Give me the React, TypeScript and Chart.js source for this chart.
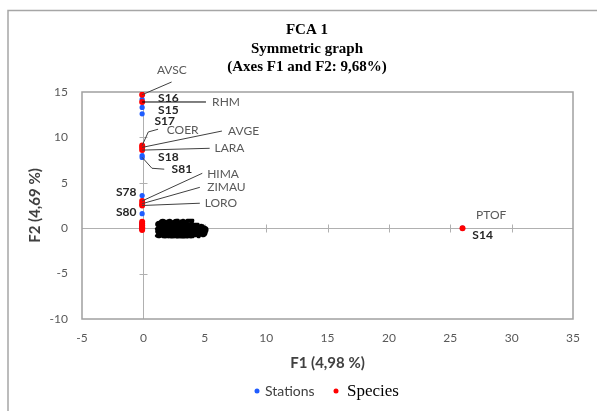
import React, { useEffect, useRef } from "react";
import { Chart, registerables } from "chart.js";

Chart.register(...registerables);

const titleLines = ["FCA 1", "Symmetric graph", "(Axes F1 and F2: 9,68%)"];
const xAxisTitle = "F1 (4,98 %)";
const yAxisTitle = "F2 (4,69 %)";
const legendLabels = ["Stations", "Species"];

// Species (red)
const speciesNames = ["AVSC", "RHM", "COER", "AVGE", "LARA", "HIMA", "ZIMAU", "LORO", "PTOF"];
const speciesX = [-0.1, -0.1, -0.1, -0.1, -0.1, -0.1, -0.1, -0.1, 26.0];
const speciesY = [14.7, 13.9, 9.1, 8.9, 8.6, 3.0, 2.7, 2.5, 0.0];
const speciesLabelX = [1.1, 5.6, 1.9, 6.9, 5.8, 5.2, 5.2, 5.0, 27.1];
const speciesLabelY = [17.4, 13.9, 10.8, 10.7, 8.8, 5.95, 4.5, 2.75, 1.43];
const speciesLeaderX = [2.3, 5.1, 1.2, 6.4, 5.4, 4.8, 4.6, 4.6, null];
const speciesLeaderY = [16.1, 13.9, 10.9, 10.7, 8.8, 6.05, 4.5, 2.75, null];
const speciesElbowX = [null, null, 0.4, null, null, null, null, null, null];
const speciesElbowY = [null, null, 10.6, null, null, null, null, null, null];

// Unlabelled species clustered at the origin
const originSpeciesX = [-0.1, -0.1, -0.1, -0.1, -0.1, -0.1];
const originSpeciesY = [0.7, 0.5, 0.3, 0.1, -0.05, -0.2];

// Stations (blue)
const stationNames = ["S16", "S15", "S17", "S18", "S81", "S78", "S80", "S14"];
const stationX = [-0.1, -0.1, -0.1, -0.1, -0.1, -0.1, -0.1, 26.0];
const stationY = [14.2, 13.3, 12.6, 8.0, 7.8, 3.6, 1.6, 0.0];
const stationLabelX = [1.2, 1.2, 0.9, 1.2, 2.3, -0.57, -0.57, 26.8];
const stationLabelY = [14.3, 13.0, 11.8, 7.8, 6.5, 3.97, 1.76, -0.77];
const stationLabelAlign = ["left", "left", "left", "left", "left", "right", "right", "left"];
const stationLeaderX = [null, null, null, null, 1.7, null, null, null];
const stationLeaderY = [null, null, null, null, 6.5, null, null, null];
const stationElbowX = [null, null, null, null, 0.7, null, null, null];
const stationElbowY = [null, null, null, null, 6.6, null, null, null];

// Stations clustered at the origin (labels overlap into a blob)
const originStationNames = ["S1", "S2", "S3", "S4", "S5", "S6", "S7", "S8", "S9", "S10", "S11", "S12", "S13", "S19", "S20", "S21", "S22", "S23", "S24", "S25", "S26", "S27"];
const originStationX = [-0.1, -0.1, -0.1, -0.1, -0.1, -0.1, -0.1, -0.1, -0.1, -0.1, -0.1, -0.1, -0.1, -0.1, -0.1, -0.1, -0.1, -0.1, -0.1, -0.1, -0.1, -0.1];
const originStationY = [0.6, 0.5, 0.4, 0.3, 0.2, 0.1, 0.0, -0.1, 0.6, 0.5, 0.4, 0.3, 0.2, 0.1, 0.0, -0.1, 0.2, 0.1, 0.0, 0.3, 0.4, 0.5];
const originLabelX = [1.0, 1.4, 1.8, 2.2, 2.6, 3.0, 3.4, 3.9, 1.1, 1.6, 2.1, 2.6, 3.1, 3.6, 1.0, 1.5, 2.0, 2.5, 3.0, 3.5, 1.3, 2.4];
const originLabelY = [0.25, 0.25, 0.3, 0.25, 0.2, 0.1, 0.0, -0.1, -0.2, -0.2, -0.25, -0.25, -0.3, -0.3, -0.5, -0.5, -0.55, -0.55, -0.5, -0.45, 0.45, 0.45];

const RED = "#ff0000";
const BLUE = "#1f5cff";
const SANS = "Lato, 'Liberation Sans', sans-serif";
const SERIF = "'Liberation Serif', 'Times New Roman', serif";

const pts = (xs: number[], ys: number[]) => xs.map((x, i) => ({ x, y: ys[i] }));

const decor = {
  id: "decor",
  beforeDatasetsDraw(chart: any) {
    const { ctx, chartArea } = chart;
    const { left, right, top, bottom } = chartArea;
    const xs = chart.scales.x;
    const ys = chart.scales.y;
    ctx.save();
    ctx.strokeStyle = "#a6a6a6";
    ctx.lineWidth = 1.5;
    ctx.beginPath();
    ctx.moveTo(8, 411);
    ctx.lineTo(8, 10.5);
    ctx.lineTo(597, 10.5);
    ctx.stroke();
    const x0 = Math.round(xs.getPixelForValue(0)) + 0.5;
    const y0 = Math.round(ys.getPixelForValue(0)) + 0.5;
    ctx.strokeStyle = "#b0b0b0";
    ctx.lineWidth = 1;
    ctx.beginPath();
    ctx.moveTo(x0, top);
    ctx.lineTo(x0, bottom);
    ctx.moveTo(left, y0);
    ctx.lineTo(right, y0);
    xs.ticks.forEach((t: any) => {
      if (t.value === 0 || t.value === xs.min || t.value === xs.max) return;
      const px = Math.round(xs.getPixelForValue(t.value)) + 0.5;
      ctx.moveTo(px, y0 - 4);
      ctx.lineTo(px, y0 + 4);
    });
    ys.ticks.forEach((t: any) => {
      if (t.value === 0 || t.value === ys.min || t.value === ys.max) return;
      const py = Math.round(ys.getPixelForValue(t.value)) + 0.5;
      ctx.moveTo(x0 - 4, py);
      ctx.lineTo(x0 + 4, py);
    });
    ctx.stroke();
    ctx.strokeStyle = "#a0a0a0";
    ctx.lineWidth = 1.5;
    ctx.strokeRect(left, top, right - left, bottom - top);
    ctx.restore();
  },
  afterDatasetsDraw(chart: any) {
    const { ctx } = chart;
    const xs = chart.scales.x;
    const ys = chart.scales.y;
    const X = (v: number) => xs.getPixelForValue(v);
    const Y = (v: number) => ys.getPixelForValue(v);
    ctx.save();

    const leader = (px: number, py: number, ex: any, ey: any, lx: any, ly: any, color: string) => {
      if (lx === null) return;
      ctx.strokeStyle = color;
      ctx.lineWidth = 1;
      ctx.beginPath();
      ctx.moveTo(X(px), Y(py));
      if (ex !== null) ctx.lineTo(X(ex), Y(ey));
      ctx.lineTo(X(lx), Y(ly));
      ctx.stroke();
    };

    speciesNames.forEach((_, i) => {
      const c = speciesLeaderY[i] !== null && Math.abs((speciesLeaderY[i] as number) - speciesY[i]) < 0.05 ? "#000000" : "#404040";
      leader(speciesX[i], speciesY[i], speciesElbowX[i], speciesElbowY[i], speciesLeaderX[i], speciesLeaderY[i], c);
    });
    stationNames.forEach((_, i) => {
      leader(stationX[i], stationY[i], stationElbowX[i], stationElbowY[i], stationLeaderX[i], stationLeaderY[i], "#404040");
    });

    ctx.textBaseline = "middle";
    ctx.font = `12px ${SANS}`;
    ctx.fillStyle = "#595959";
    ctx.textAlign = "left";
    speciesNames.forEach((n, i) => {
      ctx.fillText(n, X(speciesLabelX[i]), Y(speciesLabelY[i]));
    });

    ctx.font = `bold 12px ${SANS}`;
    ctx.fillStyle = "#262626";
    stationNames.forEach((n, i) => {
      ctx.textAlign = stationLabelAlign[i] as CanvasTextAlign;
      ctx.fillText(n, X(stationLabelX[i]), Y(stationLabelY[i]));
    });
    ctx.textAlign = "left";
    ctx.fillStyle = "#000000";
    ctx.strokeStyle = "#000000";
    ctx.lineWidth = 2.5;
    ctx.lineJoin = "round";
    originStationNames.forEach((n, i) => {
      ctx.strokeText(n, X(originLabelX[i]), Y(originLabelY[i]));
      ctx.fillText(n, X(originLabelX[i]), Y(originLabelY[i]));
    });

    ctx.fillStyle = "#000000";
    ctx.textAlign = "center";
    ctx.font = `bold 15px ${SERIF}`;
    const tys = [30, 49, 67];
    titleLines.forEach((t, i) => ctx.fillText(t, 307, tys[i]));

    ctx.textAlign = "left";
    ctx.fillStyle = BLUE;
    ctx.beginPath();
    ctx.arc(257, 391, 2.5, 0, Math.PI * 2);
    ctx.fill();
    ctx.fillStyle = "#404040";
    ctx.font = `14px ${SANS}`;
    ctx.fillText(legendLabels[0], 265, 391);
    ctx.fillStyle = RED;
    ctx.beginPath();
    ctx.arc(336, 391, 2.5, 0, Math.PI * 2);
    ctx.fill();
    ctx.fillStyle = "#000000";
    ctx.font = `17px ${SERIF}`;
    ctx.fillText(legendLabels[1], 347, 392);
    ctx.restore();
  },
};

export default function App() {
  const ref = useRef<HTMLCanvasElement>(null);
  useEffect(() => {
    const canvas = ref.current!;
    const chart = new Chart(canvas, {
      type: "scatter",
      data: {
        datasets: [
          {
            label: legendLabels[1],
            data: [...pts(speciesX, speciesY), ...pts(originSpeciesX, originSpeciesY)],
            backgroundColor: RED,
            borderColor: RED,
            borderWidth: 0,
            pointRadius: 3,
            order: 0,
          },
          {
            label: legendLabels[0],
            data: [...pts(stationX, stationY), ...pts(originStationX, originStationY)],
            backgroundColor: BLUE,
            borderColor: BLUE,
            borderWidth: 0,
            pointRadius: 2.6,
            order: 1,
          },
        ],
      },
      options: {
        responsive: false,
        animation: false,
        devicePixelRatio: 1,
        layout: { padding: { left: 22, right: 24, top: 92, bottom: 32 } },
        plugins: { legend: { display: false }, tooltip: { enabled: false }, title: { display: false } },
        scales: {
          x: {
            type: "linear",
            min: -5,
            max: 35,
            ticks: { stepSize: 5, padding: 12, color: "#595959", font: { family: SANS, size: 12 }, maxRotation: 0 },
            grid: { display: false, drawTicks: false },
            border: { display: false },
            title: {
              display: true,
              text: xAxisTitle,
              color: "#404040",
              font: { family: SANS, size: 15, weight: "bold" },
              padding: { top: 4, bottom: 7 },
            },
            afterFit: (s: any) => {
              s.height = 60;
            },
          },
          y: {
            type: "linear",
            min: -10,
            max: 15,
            ticks: { stepSize: 5, padding: 14, color: "#595959", font: { family: SANS, size: 12 } },
            grid: { display: false, drawTicks: false },
            border: { display: false },
            title: {
              display: true,
              text: yAxisTitle,
              color: "#404040",
              font: { family: SANS, size: 15, weight: "bold" },
              padding: { top: 4, bottom: 4 },
            },
            afterFit: (s: any) => {
              s.width = 60;
            },
          },
        },
      } as any,
      plugins: [decor],
    });
    return () => chart.destroy();
  }, []);
  return <canvas ref={ref} width={597} height={411} style={{ position: "fixed", left: 0, top: 0 }} />;
}
